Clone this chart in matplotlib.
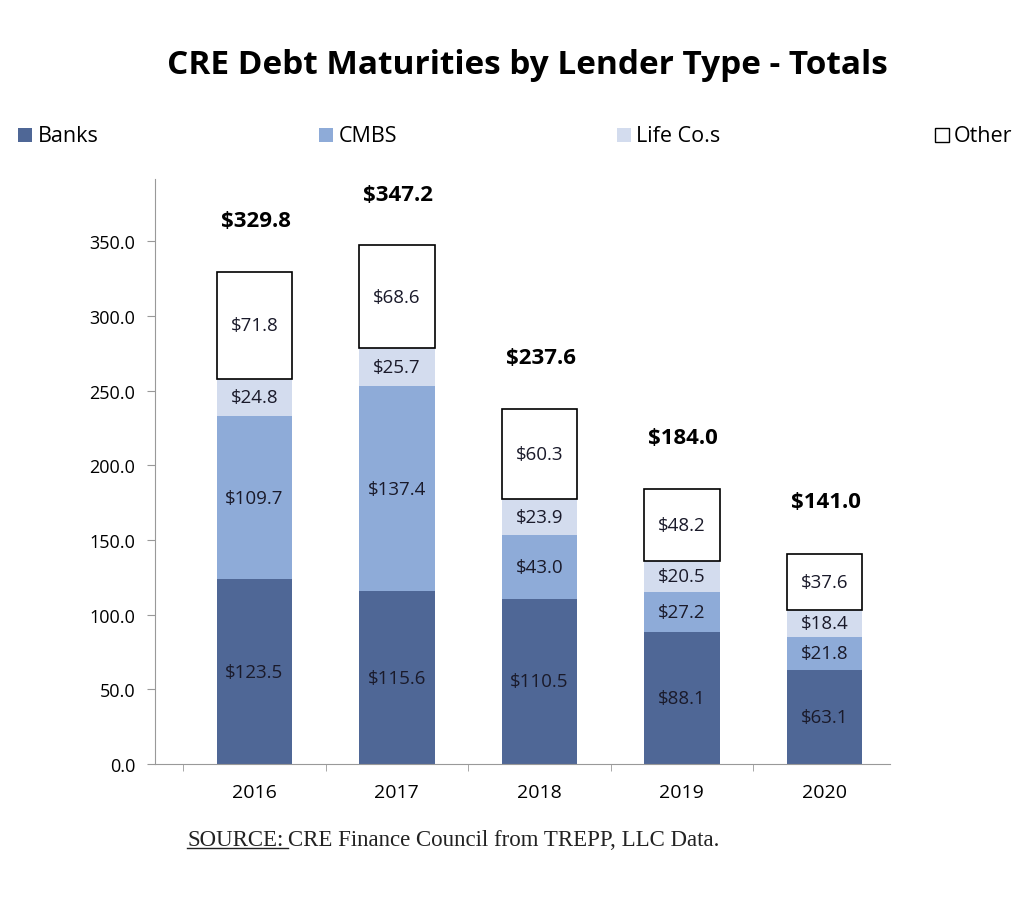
import matplotlib.pyplot as plt
from matplotlib.patches import Rectangle
import numpy as np

years = ["2016", "2017", "2018", "2019", "2020"]
banks = [123.5, 115.6, 110.5, 88.1, 63.1]
cmbs = [109.7, 137.4, 43.0, 27.2, 21.8]
life = [24.8, 25.7, 23.9, 20.5, 18.4]
other = [71.8, 68.6, 60.3, 48.2, 37.6]
totals = [329.8, 347.2, 237.6, 184.0, 141.0]

plt.rcParams["font.family"] = ["Open Sans", "DejaVu Sans"]

fig = plt.figure(figsize=(10.24, 9.03), dpi=100)
ax = fig.add_axes([0.151, 0.153, 0.718, 0.648])

x = np.arange(len(years))
w = 0.53
c_banks, c_cmbs, c_life = "#4F6796", "#8EABD8", "#D3DCEE"

b1 = ax.bar(x, banks, w, color=c_banks, label="Banks")
bottom2 = np.array(banks)
b2 = ax.bar(x, cmbs, w, bottom=bottom2, color=c_cmbs, label="CMBS")
bottom3 = bottom2 + np.array(cmbs)
b3 = ax.bar(x, life, w, bottom=bottom3, color=c_life, label="Life Co.s")
bottom4 = bottom3 + np.array(life)
b4 = ax.bar(x, other, w, bottom=bottom4, color="white", edgecolor="black",
            linewidth=1.2, label="Other")

for vals, bots in [(banks, np.zeros(5)), (cmbs, bottom2),
                   (life, bottom3), (other, bottom4)]:
    for xi, v, b in zip(x, vals, bots):
        ax.text(xi, b + v / 2, f"${v:.1f}", ha="center", va="center",
                fontsize=13.5, color="#1a1a2a")

for xi, t in zip(x, totals):
    ax.annotate(f"${t:.1f}", (xi, t), xytext=(1, 37), textcoords="offset points",
                ha="center", va="center", fontsize=16, fontweight="bold")

ax.set_xlim(-0.70, 4.46)
ax.set_ylim(0, 392)
ax.set_yticks(np.arange(0, 351, 50))
ax.set_yticklabels([f"{v:.1f}" for v in np.arange(0, 351, 50)], fontsize=13)
ax.set_xticks(x)
ax.set_xticklabels(years, fontsize=14)
ax.set_xticks(np.arange(-0.5, 4.5, 1), minor=True)
ax.tick_params(axis="x", which="major", length=0, pad=14)
ax.tick_params(axis="x", which="minor", length=5, color="#999999")
ax.tick_params(axis="y", length=6, color="#999999", pad=8)
for s in ["top", "right"]:
    ax.spines[s].set_visible(False)
for s in ["left", "bottom"]:
    ax.spines[s].set_color("#999999")

fig.text(0.515, 0.928, "CRE Debt Maturities by Lender Type - Totals",
         ha="center", va="center", fontsize=24, fontweight="bold")

# legend entries placed by hand (wide spacing in the original)
legend_items = [("Banks", c_banks, "none", 0.018), ("CMBS", c_cmbs, "none", 0.312),
                ("Life Co.s", c_life, "none", 0.603), ("Other", "white", "black", 0.913)]
ly = 0.849
sq_w, sq_h = 0.0135, 0.0155
for name, fc, ec, lx in legend_items:
    fig.add_artist(Rectangle((lx, ly - sq_h / 2), sq_w, sq_h, facecolor=fc,
                             edgecolor=ec, linewidth=1, transform=fig.transFigure))
    fig.text(lx + sq_w + 0.005, ly, name, fontsize=15.5, va="center", ha="left")

serif = ["Liberation Serif", "DejaVu Serif"]
t1 = fig.text(0.183, 0.069, "SOURCE:", fontsize=16.5, family=serif, va="center",
              color="#222222")
fig.canvas.draw()
bb = t1.get_window_extent().transformed(fig.transFigure.inverted())
fig.text(bb.x1 + 0.004, 0.069, "CRE Finance Council from TREPP, LLC Data.",
         fontsize=16.5, family=serif, va="center", color="#222222")
fig.add_artist(plt.Line2D([bb.x0, bb.x1 + 0.004], [bb.y0 + 0.002, bb.y0 + 0.002],
                          color="#222222", linewidth=1))

fig.savefig("out.png", dpi=100)
